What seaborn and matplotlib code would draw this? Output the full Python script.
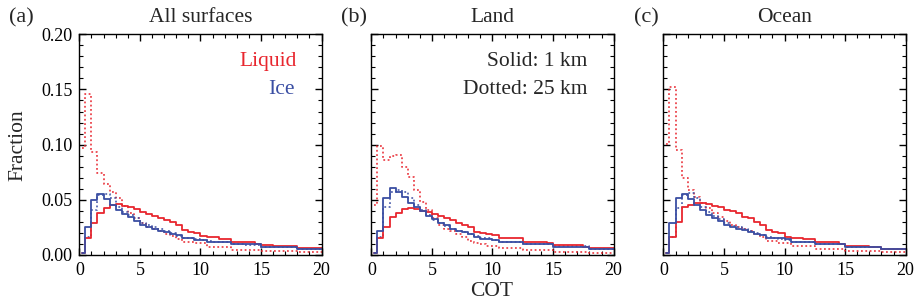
import matplotlib
matplotlib.use("Agg")
import matplotlib.pyplot as plt
import seaborn as sns
import numpy as np
import pandas as pd
from matplotlib.ticker import MultipleLocator, FormatStrFormatter

sns.set_theme(style="ticks")
plt.rcParams['font.family'] = ['Liberation Serif', 'DejaVu Serif']

# COT bin edges (first bin starts at 0.25, then 0.5-wide bins up to 20)
cot_edges = np.r_[0.25, np.arange(0.5, 20.01, 0.5)]
cot_mid = 0.5 * (cot_edges[:-1] + cot_edges[1:])

panel_titles = ["All surfaces", "Land", "Ocean"]
panel_tags = ["(a)", "(b)", "(c)"]

# ---- (a) All surfaces ----
liq_1km_all = [0.002, 0.015, 0.029, 0.038, 0.043, 0.0455, 0.046, 0.0447, 0.0432, 0.0417,
               0.0393, 0.0371, 0.0353, 0.0332, 0.0317, 0.0295, 0.027, 0.0225, 0.021, 0.020,
               0.0172, 0.016, 0.016, 0.0142, 0.0142, 0.0122, 0.0122, 0.0115, 0.0115, 0.0098,
               0.0086, 0.0086, 0.0085, 0.0084, 0.0078, 0.0078, 0.0064, 0.0064, 0.0063, 0.0063]
liq_25km_all = [0.097, 0.146, 0.0936, 0.074, 0.0645, 0.0575, 0.0515, 0.044, 0.038, 0.0332,
                0.0287, 0.0257, 0.0233, 0.0213, 0.019, 0.017, 0.0145, 0.012, 0.012, 0.0106,
                0.0106, 0.007, 0.007, 0.007, 0.007, 0.0045, 0.0045, 0.0045, 0.0045, 0.0045,
                0.0036, 0.0036, 0.0036, 0.0036, 0.0036, 0.0036, 0.0027, 0.0027, 0.0027, 0.0027]
ice_1km_all = [0.002, 0.0257, 0.050, 0.055, 0.0505, 0.045, 0.0408, 0.037, 0.034, 0.031,
               0.027, 0.0257, 0.0235, 0.022, 0.0204, 0.019, 0.018, 0.0151, 0.0151, 0.014,
               0.014, 0.0122, 0.0122, 0.0122, 0.0122, 0.010, 0.010, 0.010, 0.010, 0.010,
               0.0076, 0.0076, 0.0076, 0.0076, 0.0076, 0.0076, 0.0052, 0.0052, 0.0052, 0.0052]
ice_25km_all = [0.002, 0.0166, 0.041, 0.054, 0.055, 0.0514, 0.0438, 0.039, 0.036, 0.0332,
                0.029, 0.027, 0.025, 0.0233, 0.022, 0.020, 0.0175, 0.0155, 0.015, 0.0142,
                0.0138, 0.0125, 0.012, 0.0118, 0.0115, 0.0098, 0.0097, 0.0095, 0.0093, 0.0092,
                0.0075, 0.0075, 0.0074, 0.0074, 0.0073, 0.0073, 0.0055, 0.0055, 0.0055, 0.0055]

# ---- (b) Land ----
liq_1km_land = [0.002, 0.0151, 0.0257, 0.034, 0.0383, 0.0414, 0.0423, 0.0414, 0.0402, 0.0393,
                0.0371, 0.0353, 0.0332, 0.0317, 0.0293, 0.027, 0.025, 0.0211, 0.0202, 0.019,
                0.018, 0.0157, 0.0157, 0.0157, 0.0157, 0.0121, 0.0121, 0.0121, 0.0121, 0.0106,
                0.009, 0.009, 0.009, 0.009, 0.009, 0.0076, 0.0067, 0.0067, 0.0067, 0.0067]
liq_25km_land = [0.045, 0.0988, 0.086, 0.0893, 0.0906, 0.080, 0.071, 0.059, 0.048, 0.041,
                 0.0332, 0.027, 0.0233, 0.0213, 0.019, 0.0166, 0.013, 0.0105, 0.0097, 0.0082,
                 0.0082, 0.0061, 0.0061, 0.0061, 0.0061, 0.0045, 0.0045, 0.0045, 0.0045, 0.0045,
                 0.003, 0.003, 0.003, 0.003, 0.003, 0.003, 0.0021, 0.0021, 0.0021, 0.0021]
ice_1km_land = [0.002, 0.022, 0.0514, 0.0604, 0.0568, 0.0523, 0.0474, 0.0438, 0.0402, 0.0353,
                0.0323, 0.0287, 0.027, 0.0233, 0.022, 0.0204, 0.019, 0.016, 0.0145, 0.0145,
                0.0136, 0.0115, 0.0115, 0.0115, 0.0115, 0.0097, 0.0097, 0.0097, 0.0097, 0.0097,
                0.0076, 0.0076, 0.0076, 0.0076, 0.0076, 0.0076, 0.0055, 0.0055, 0.0055, 0.0055]
ice_25km_land = [0.002, 0.0166, 0.0438, 0.0574, 0.059, 0.0574, 0.0514, 0.0453, 0.041, 0.036,
                 0.0317, 0.0287, 0.026, 0.024, 0.022, 0.0204, 0.019, 0.017, 0.0155, 0.015,
                 0.014, 0.012, 0.0118, 0.0116, 0.0114, 0.0098, 0.0098, 0.0097, 0.0097, 0.0096,
                 0.0078, 0.0078, 0.0078, 0.0077, 0.0077, 0.0077, 0.0058, 0.0058, 0.0058, 0.0058]

# ---- (c) Ocean ----
liq_1km_ocean = [0.002, 0.0166, 0.030, 0.0438, 0.0453, 0.0468, 0.0468, 0.046, 0.0447, 0.0432,
                 0.0408, 0.0402, 0.0378, 0.034, 0.0332, 0.030, 0.027, 0.0225, 0.021, 0.020,
                 0.0166, 0.0157, 0.0157, 0.0142, 0.0142, 0.0115, 0.0115, 0.0115, 0.0115, 0.0097,
                 0.0085, 0.0085, 0.0085, 0.0085, 0.0076, 0.0076, 0.0058, 0.0058, 0.0058, 0.0058]
liq_25km_ocean = [0.101, 0.152, 0.095, 0.0695, 0.059, 0.0523, 0.047, 0.0423, 0.0383, 0.0347,
                  0.031, 0.027, 0.025, 0.0233, 0.0213, 0.019, 0.0165, 0.013, 0.013, 0.0106,
                  0.0106, 0.0082, 0.0082, 0.0082, 0.0082, 0.0052, 0.0052, 0.0052, 0.0052, 0.0052,
                  0.004, 0.004, 0.004, 0.004, 0.004, 0.004, 0.0027, 0.0027, 0.0027, 0.0027]
ice_1km_ocean = [0.002, 0.0287, 0.0514, 0.0553, 0.0504, 0.0453, 0.0408, 0.036, 0.0332, 0.0308,
                 0.027, 0.0257, 0.024, 0.0226, 0.0208, 0.019, 0.0178, 0.0151, 0.0151, 0.0151,
                 0.0145, 0.0121, 0.0121, 0.0121, 0.0121, 0.010, 0.010, 0.010, 0.010, 0.010,
                 0.0076, 0.0076, 0.0076, 0.0076, 0.0076, 0.0076, 0.0055, 0.0055, 0.0055, 0.0055]
ice_25km_ocean = [0.002, 0.0166, 0.0423, 0.054, 0.0558, 0.052, 0.0438, 0.039, 0.0353, 0.0323,
                  0.0287, 0.026, 0.025, 0.0235, 0.0215, 0.0196, 0.018, 0.016, 0.0152, 0.0148,
                  0.014, 0.0122, 0.012, 0.0118, 0.0116, 0.0098, 0.0098, 0.0098, 0.0098, 0.0098,
                  0.0074, 0.0074, 0.0074, 0.0074, 0.0074, 0.0074, 0.0054, 0.0054, 0.0054, 0.0054]

panels = [
    (liq_1km_all, liq_25km_all, ice_1km_all, ice_25km_all),
    (liq_1km_land, liq_25km_land, ice_1km_land, ice_25km_land),
    (liq_1km_ocean, liq_25km_ocean, ice_1km_ocean, ice_25km_ocean),
]

RED = '#e8262e'
BLUE = '#3a4ea3'
DOT = (0, (1, 1.4))
TXT = 15.5

fig, axes = plt.subplots(1, 3, figsize=(9.15, 3.06), dpi=100)
fig.subplots_adjust(left=0.0867, right=0.9898, bottom=0.1667, top=0.888, wspace=0.2055)

for i, ax in enumerate(axes):
    liq1, liq25, ice1, ice25 = panels[i]
    series = [
        (liq25, RED, DOT, 0.85),
        (ice25, BLUE, DOT, 0.85),
        (liq1, RED, '-', 1.0),
        (ice1, BLUE, '-', 1.0),
    ]
    for vals, col, ls, a in series:
        df = pd.DataFrame({"cot": cot_mid, "frac": vals})
        sns.histplot(data=df, x="cot", weights="frac", bins=list(cot_edges),
                     element="step", fill=False, color=col, linestyle=ls,
                     linewidth=1.3, alpha=a, ax=ax)

    ax.set_xlim(0, 20)
    ax.set_ylim(0, 0.20)
    ax.xaxis.set_major_locator(MultipleLocator(5))
    ax.xaxis.set_minor_locator(MultipleLocator(1))
    ax.yaxis.set_major_locator(MultipleLocator(0.05))
    ax.yaxis.set_minor_locator(MultipleLocator(0.01))
    ax.tick_params(which='both', direction='in', top=True, right=True,
                   labelsize=13, colors='black', pad=5)
    ax.tick_params(which='major', length=5, width=1.0)
    ax.tick_params(which='minor', length=2.7, width=0.8)
    for sp in ax.spines.values():
        sp.set_visible(True)
        sp.set_linewidth(1.0)
        sp.set_color('black')
    ax.set_xlabel('')
    ax.set_ylabel('')
    ax.yaxis.set_major_formatter(FormatStrFormatter('%.2f'))
    if i > 0:
        ax.tick_params(axis='y', labelleft=False)
    ax.text(0.5, 1.075, panel_titles[i], transform=ax.transAxes,
            ha='center', va='center', fontsize=TXT)

axes[0].text(0.897, 0.876, "Liquid", color=RED, transform=axes[0].transAxes,
             ha='right', va='center', fontsize=TXT)
axes[0].text(0.889, 0.752, "Ice", color=BLUE, transform=axes[0].transAxes,
             ha='right', va='center', fontsize=TXT)
axes[1].text(0.893, 0.876, "Solid: 1 km", transform=axes[1].transAxes,
             ha='right', va='center', fontsize=TXT)
axes[1].text(0.893, 0.752, "Dotted: 25 km", transform=axes[1].transAxes,
             ha='right', va='center', fontsize=TXT)

for tag, xpix in zip(panel_tags, [9, 341, 634]):
    fig.text(xpix / 915, 1 - 18 / 306, tag, ha='left', va='center', fontsize=TXT + 0.5)

fig.text(18 / 915, 1 - 145 / 306, "Fraction", rotation=90, ha='center', va='center', fontsize=TXT)
fig.text(492 / 915, 1 - 291 / 306, "COT", ha='center', va='center', fontsize=TXT)

fig.savefig("out.png", dpi=100)
